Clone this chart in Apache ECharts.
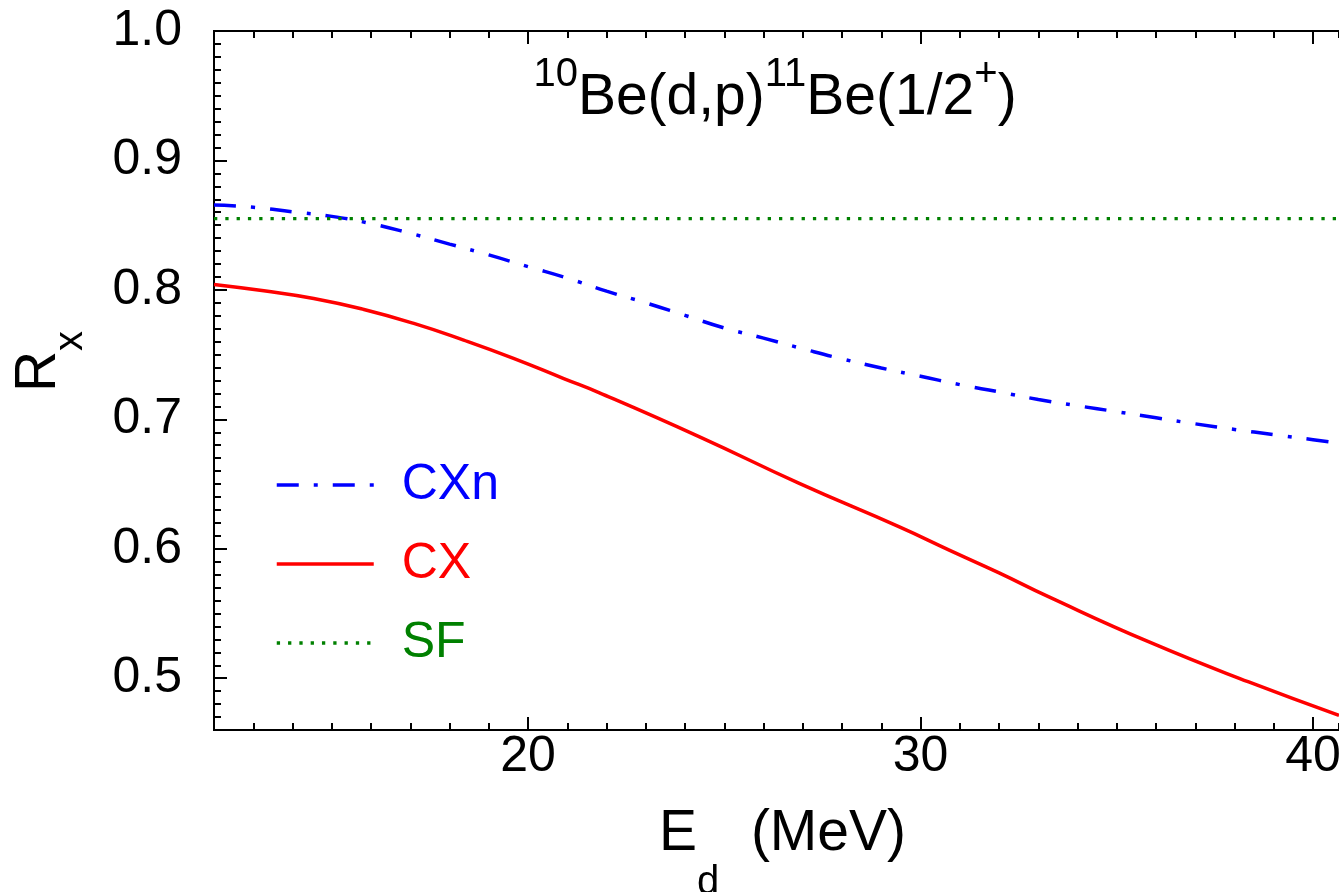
<!DOCTYPE html>
<html>
<head>
<meta charset="utf-8">
<script src="https://cdn.jsdelivr.net/npm/echarts@6/dist/echarts.min.js"></script>
<style>html,body{margin:0;padding:0;background:#fff;}#c{width:1339px;height:892px;}</style>
</head>
<body>
<div id="c"></div>
<script>
// ---- data ----
const cxnE = [12, 13, 14, 15, 16, 17, 18, 19, 20, 21, 22, 23, 24, 25, 26, 27, 28, 29, 30, 31, 32, 33, 34, 35, 36, 37, 38, 39, 40, 40.66];
const cxnR = [0.8655, 0.8638, 0.8603, 0.8568, 0.8512, 0.8437, 0.8354, 0.8270, 0.8180, 0.8091, 0.7990, 0.7900, 0.7803, 0.7706, 0.7627, 0.7545, 0.7467, 0.7397, 0.7333, 0.7268, 0.7212, 0.7153, 0.7105, 0.7059, 0.7012, 0.6965, 0.6922, 0.6882, 0.6843, 0.6816];
const cxE = [12, 13.27, 14.54, 15.82, 17.09, 18.36, 19.63, 20.91, 21.82, 24.37, 26.91, 29.46, 30.73, 32.0, 33.27, 35.82, 38.36, 40.66];
const cxR = [0.8042, 0.7993, 0.7934, 0.7849, 0.7741, 0.7612, 0.7471, 0.7315, 0.7205, 0.6865, 0.6505, 0.6169, 0.5990, 0.5814, 0.5628, 0.5280, 0.4971, 0.4714];
const sfE = [12, 40.66];
const sfR = [0.855, 0.855];
const xTickLabels = [20, 30, 40];
const yTickLabels = [0.5, 0.6, 0.7, 0.8, 0.9, 1.0];
const legendNames = ['CXn', 'CX', 'SF'];
// ---------------------------------------

const zip = (a, b) => a.map((v, i) => [v, b[i]]);
const FONT = '"Liberation Sans", Arial, sans-serif';
const X_MIN = 12, X_MAX = 40.66, Y_MIN = 0.46, Y_MAX = 1.0;
const lineBlack = { lineStyle: { color: '#000', width: 2 } };

function xAx(pos, major) {
  return {
    type: 'value', position: pos, min: X_MIN, max: X_MAX,
    interval: major ? undefined : 1,
    axisLine: { show: true, onZero: false, ...lineBlack },
    axisTick: major
      ? { show: true, inside: true, length: 13, customValues: xTickLabels, ...lineBlack }
      : { show: true, inside: true, length: 7, ...lineBlack },
    axisLabel: (major && pos === 'bottom')
      ? { show: true, customValues: xTickLabels, margin: 2, color: '#000', fontSize: 50, fontFamily: FONT }
      : { show: false },
    splitLine: { show: false }
  };
}

const chart = echarts.init(document.getElementById('c'), null, { renderer: 'canvas' });
chart.setOption({
  backgroundColor: '#fff',
  animation: false,
  grid: { left: 214, right: 0, top: 31, bottom: 162, containLabel: false, outerBoundsMode: 'none' },
  xAxis: [
    xAx('bottom', false),
    Object.assign(xAx('bottom', true), {
      name: '{n|E}{s|d}{n|  (MeV)}',
      nameLocation: 'middle', nameGap: 76, nameMoveOverlap: false,
      nameTextStyle: {
        fontFamily: FONT, color: '#000', padding: [0, 0, 0, 12],
        rich: {
          n: { fontSize: 57, fontFamily: FONT, color: '#000', lineHeight: 66, verticalAlign: 'top' },
          s: { fontSize: 40, fontFamily: FONT, color: '#000', lineHeight: 40, verticalAlign: 'top', padding: [57, 0, 0, 0] }
        }
      }
    }),
    xAx('top', false),
    xAx('top', true)
  ],
  yAxis: [
    {
      type: 'value', position: 'left', min: Y_MIN, max: Y_MAX, interval: 0.01,
      axisLine: { show: true, onZero: false, ...lineBlack },
      axisTick: { show: true, inside: true, length: 7, ...lineBlack },
      axisLabel: { show: false }, splitLine: { show: false }
    },
    {
      type: 'value', position: 'left', min: Y_MIN, max: Y_MAX,
      axisLine: { show: true, onZero: false, ...lineBlack },
      axisTick: { show: true, inside: true, length: 13, customValues: yTickLabels, ...lineBlack },
      axisLabel: { show: true, customValues: yTickLabels, margin: 32, color: '#000', fontSize: 50, fontFamily: FONT,
                   formatter: v => v.toFixed(1) },
      splitLine: { show: false },
      name: '{n|R}{s|x}',
      nameLocation: 'middle', nameGap: 137, nameRotate: 90, nameMoveOverlap: false,
      nameTextStyle: {
        fontFamily: FONT, color: '#000',
        rich: {
          n: { fontSize: 57, fontFamily: FONT, color: '#000', lineHeight: 66, verticalAlign: 'top', padding: [0, 0, 0, 38] },
          s: { fontSize: 40, fontFamily: FONT, color: '#000', lineHeight: 40, verticalAlign: 'top', padding: [40, 0, 0, 0] }
        }
      }
    }
  ],
  legend: {
    orient: 'vertical', left: 270, top: 452,
    itemWidth: 97, itemHeight: 20, itemGap: 23,
    itemStyle: { color: 'rgba(0,0,0,0)', borderWidth: 0, opacity: 0 },
    lineStyle: { width: 3.5 },
    textStyle: { fontSize: 50, fontFamily: FONT, lineHeight: 56, padding: [0, 0, 0, 23] },
    data: [
      { name: legendNames[0], textStyle: { color: '#0000ff' } },
      { name: legendNames[1], textStyle: { color: '#ff0000' } },
      { name: legendNames[2], textStyle: { color: '#008000' } }
    ]
  },
  graphic: [{
    type: 'text', x: 775, y: 55, silent: true,
    style: {
      text: '{s|10}{n|Be(d,p)}{s|11}{n|Be(1/2}{s|+}{n|)}',
      fontFamily: FONT, align: 'center', verticalAlign: 'top',
      rich: {
        n: { fontSize: 57, fontFamily: FONT, fill: '#000', lineHeight: 70, verticalAlign: 'top', padding: [15, 0, 0, 0] },
        s: { fontSize: 40, fontFamily: FONT, fill: '#000', lineHeight: 30, verticalAlign: 'top' }
      }
    }
  }],
  series: [
    {
      name: legendNames[0], type: 'line', xAxisIndex: 0, yAxisIndex: 0,
      data: zip(cxnE, cxnR), smooth: true, symbol: 'none', clip: true,
      lineStyle: { color: '#0000ff', width: 3.5, type: [22, 15, 4, 15], cap: 'butt' },
      itemStyle: { color: '#0000ff' }
    },
    {
      name: legendNames[1], type: 'line', xAxisIndex: 0, yAxisIndex: 0,
      data: zip(cxE, cxR), smooth: true, symbol: 'none', clip: true,
      lineStyle: { color: '#ff0000', width: 3.5, type: 'solid' },
      itemStyle: { color: '#ff0000' }
    },
    {
      name: legendNames[2], type: 'line', xAxisIndex: 0, yAxisIndex: 0,
      data: zip(sfE, sfR), symbol: 'none', clip: true,
      lineStyle: { color: '#008000', width: 3.3, type: [3.3, 8], cap: 'butt' },
      itemStyle: { color: '#008000' }
    }
  ]
});
</script>
</body>
</html>
